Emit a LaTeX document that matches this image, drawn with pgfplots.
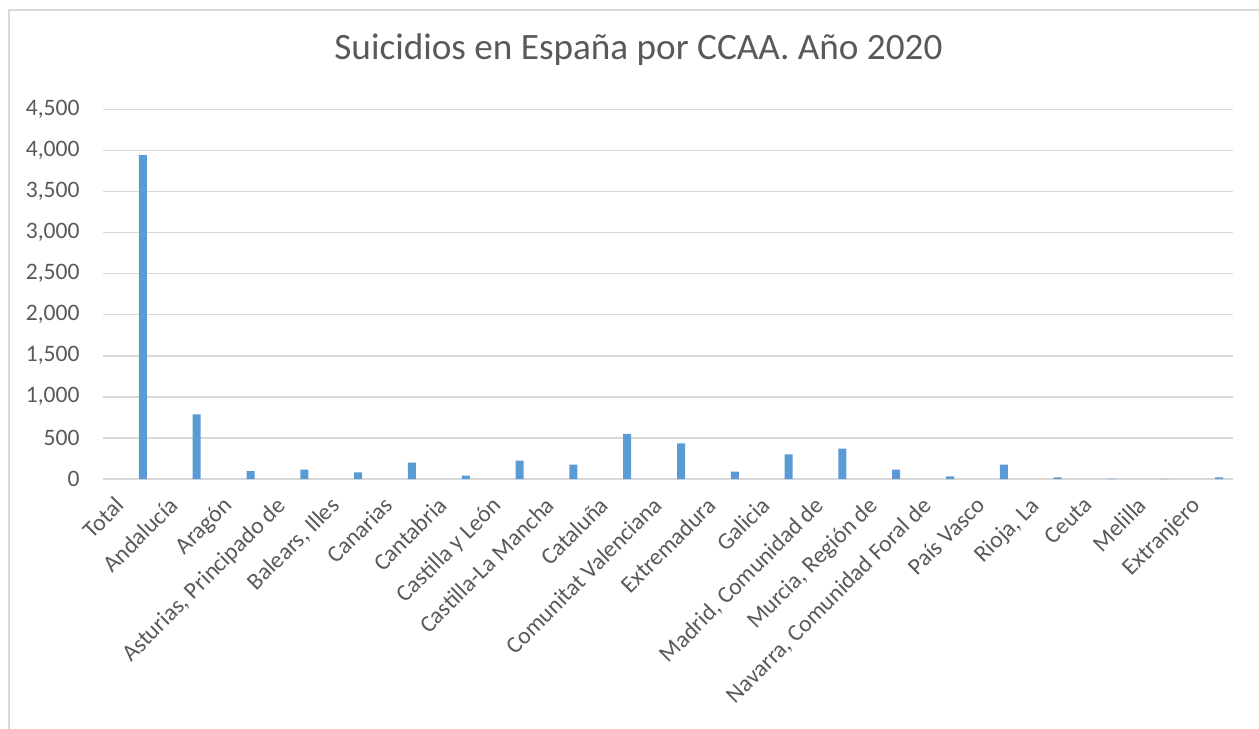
\documentclass[border=0pt]{standalone}
\usepackage{fontspec}
\setmainfont{Carlito}
\usepackage{pgfplots}
\pgfplotsset{compat=1.18}
\definecolor{barblue}{HTML}{5B9BD5}
\definecolor{gridgray}{HTML}{D9D9D9}
\definecolor{txt}{HTML}{595959}
\begin{document}
\begin{tikzpicture}
\path[use as bounding box] (0,0) rectangle (629.5bp,364.5bp);
\draw[gridgray, line width=1bp] (4.5bp,0) -- (4.5bp,359.5bp) -- (629.5bp,359.5bp);
\node[anchor=base, font=\fontsize{18.6bp}{22bp}\selectfont, text=txt, inner sep=0pt] at (319.25bp,334.5bp) {Suicidios en España por CCAA. Año 2020};
\begin{axis}[
  at={(51.5bp,125bp)}, anchor=south west,
  scale only axis, width=565bp, height=184.85bp,
  xmin=-0.5, xmax=20.5, ymin=0, ymax=4500,
  ytick={0,500,...,4500},
  xtick={0,...,20},
  xticklabels={Total,Andalucía,Aragón,{Asturias, Principado de},{Balears, Illes},Canarias,Cantabria,Castilla y León,Castilla-La Mancha,Cataluña,Comunitat Valenciana,Extremadura,Galicia,{Madrid, Comunidad de},{Murcia, Región de},{Navarra, Comunidad Foral de},País Vasco,{Rioja, La},Ceuta,Melilla,Extranjero},
  major tick length=0pt,
  axis line style={draw=none},
  ymajorgrids, grid style={gridgray, line width=0.75bp},
  every tick label/.append style={font=\fontsize{11.8bp}{14bp}\selectfont, text=txt},
  y tick label style={anchor=east, inner sep=0pt, xshift=-11.5bp},
  x tick label style={xshift=-8bp, yshift=-8bp, rotate=45, anchor=north east, inner sep=0pt},
  /pgf/number format/.cd, 1000 sep={,}, assume math mode=true,
]
\addplot[ybar, bar width=4bp, bar shift=6.5bp, fill=barblue, draw=none] coordinates {
(0,3941) (1,787) (2,97) (3,114) (4,81) (5,200) (6,41) (7,224) (8,175) (9,548) (10,435)
(11,90) (12,300) (13,370) (14,114) (15,33) (16,175) (17,20) (18,4) (19,3) (20,20)
};
\end{axis}
\end{tikzpicture}
\end{document}
